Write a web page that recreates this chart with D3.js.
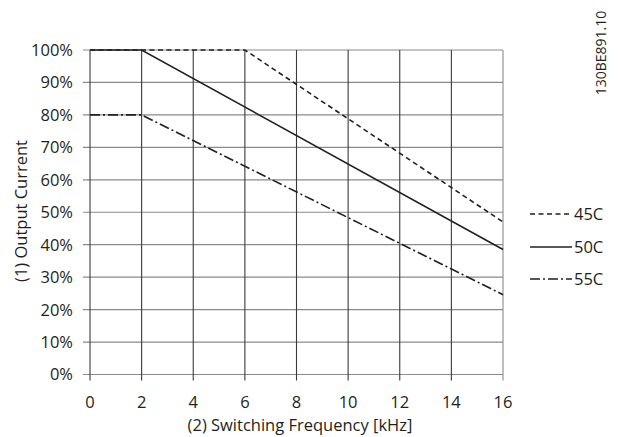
<!DOCTYPE html>
<html><head><meta charset="utf-8">
<script src="https://cdn.jsdelivr.net/npm/d3@7"></script>
<style>body{margin:0;background:#fff}svg{display:block}text{font-family:"Open Sans",sans-serif;fill:#231f20}</style>
</head><body>
<svg id="c" width="619" height="437"></svg>
<script>
const xTicks = [0,2,4,6,8,10,12,14,16];
const yTicks = [0,10,20,30,40,50,60,70,80,90,100];
const seriesNames = ["45C","50C","55C"];
const freq45 = [0,6,16];   const cur45 = [100,100,47];
const freq50 = [0,2,16];   const cur50 = [100,100,38.5];
const freq55 = [0,2,16];   const cur55 = [80,80,24.6];

const svg = d3.select("#c");
const x = d3.scaleLinear().domain([0,16]).range([90,503]);
const y = d3.scaleLinear().domain([0,100]).range([374.5,50]);
const ink = "#231f20";
const fs = 16.5;

svg.append("g").selectAll("line").data(yTicks).join("line")
  .attr("x1", 83).attr("x2", x(16)).attr("y1", d=>y(d)).attr("y2", d=>y(d))
  .attr("stroke", "#8a8a8a").attr("stroke-width", 1.2);
svg.append("g").selectAll("line").data(xTicks).join("line")
  .attr("x1", d=>x(d)).attr("x2", d=>x(d)).attr("y1", y(100)).attr("y2", y(0)+6)
  .attr("stroke", d=> d===16 ? "#8a8a8a" : "#3a3a3a").attr("stroke-width", 1.1);

svg.append("g").selectAll("text").data(yTicks).join("text")
  .attr("x", 73).attr("y", d=>y(d)).attr("dy","0.36em").attr("text-anchor","end")
  .attr("font-size", fs).text(d=>d+"%");
svg.append("g").selectAll("text").data(xTicks).join("text")
  .attr("x", d=>x(d)).attr("y", 402).attr("dy","0.36em").attr("text-anchor","middle")
  .attr("font-size", fs).text(d=>d);

svg.append("text").attr("x", 300).attr("y", 425).attr("dy","0.36em").attr("text-anchor","middle")
  .attr("font-size", fs).text("(2) Switching Frequency [kHz]");
svg.append("text").attr("transform","translate(21,211) rotate(-90)").attr("dy","0.36em")
  .attr("text-anchor","middle").attr("font-size", fs).text("(1) Output Current");
svg.append("text").attr("transform","translate(601,53) rotate(-90)").attr("dy","0.36em")
  .attr("text-anchor","middle").attr("font-size", 14).text("130BE891.10");

const line = d3.line().x(d=>x(d[0])).y(d=>y(d[1]));
const dashes = {"45C":"5,3.5","50C":null,"55C":"10,3,2,3"};
const data = {"45C": d3.zip(freq45,cur45), "50C": d3.zip(freq50,cur50), "55C": d3.zip(freq55,cur55)};
seriesNames.forEach(n=>{
  svg.append("path").attr("d", line(data[n])).attr("fill","none")
    .attr("stroke", ink).attr("stroke-width", 1.6)
    .attr("stroke-dasharray", dashes[n]);
});

const legY = [214, 247, 279];
seriesNames.forEach((n,i)=>{
  svg.append("line").attr("x1",530).attr("x2",572).attr("y1",legY[i]).attr("y2",legY[i])
    .attr("stroke", ink).attr("stroke-width",1.6).attr("stroke-dasharray", dashes[n]);
  svg.append("text").attr("x",574).attr("y",legY[i]).attr("dy","0.36em").attr("font-size",fs).text(n);
});
</script>
</body></html>
